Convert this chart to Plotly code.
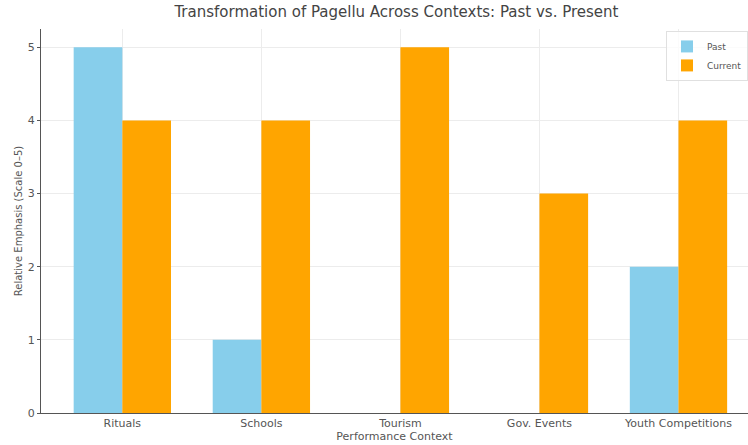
import plotly.graph_objects as go

categories = ["Rituals", "Schools", "Tourism", "Gov. Events", "Youth Competitions"]
past = [5, 1, 0, 0, 2]
current = [4, 4, 5, 3, 4]
y_ticks = [0, 1, 2, 3, 4, 5]

fig = go.Figure()
fig.add_trace(go.Bar(x=categories, y=past, name="Past", marker_color="#87CEEB",
                     marker_line_width=0))
fig.add_trace(go.Bar(x=categories, y=current, name="Current", marker_color="#FFA500",
                     marker_line_width=0))

font = "DejaVu Sans"
fig.update_layout(
    width=748, height=445,
    margin=dict(l=41, r=0, t=29, b=32),
    barmode="group", bargap=0.3, bargroupgap=0,
    plot_bgcolor="white", paper_bgcolor="white",
    font=dict(family=font, color="#444", size=11),
    title=dict(text="Transformation of Pagellu Across Contexts: Past vs. Present",
               x=0.53, xanchor="center", y=0.985, yanchor="top",
               font=dict(size=15, color="#444", family=font)),
    legend=dict(x=1.0, y=0.995, xanchor="right", yanchor="top",
                bordercolor="#e0e0e0", borderwidth=1, bgcolor="rgba(255,255,255,0.8)",
                font=dict(size=9, color="#555"), tracegroupgap=0, itemwidth=30),
    showlegend=True,
)
fig.update_xaxes(range=[-0.585, 4.50], showgrid=True, gridcolor="#ececec", gridwidth=1,
                 showline=True, linecolor="#555", linewidth=1.2, ticks="",
                 tickfont=dict(size=11, color="#555"),
                 title=dict(text="Performance Context", font=dict(size=11, color="#555"),
                            standoff=2))
fig.update_yaxes(range=[0, 5.25], tickvals=y_ticks, showgrid=True, gridcolor="#ececec",
                 gridwidth=1, showline=True, linecolor="#555", linewidth=1.2,
                 ticks="outside", ticklen=3, tickcolor="#555", zeroline=False,
                 tickfont=dict(size=11, color="#555"),
                 title=dict(text="Relative Emphasis (Scale 0–5)", font=dict(size=10, color="#555"),
                            standoff=3))
fig.write_html("out.html")
